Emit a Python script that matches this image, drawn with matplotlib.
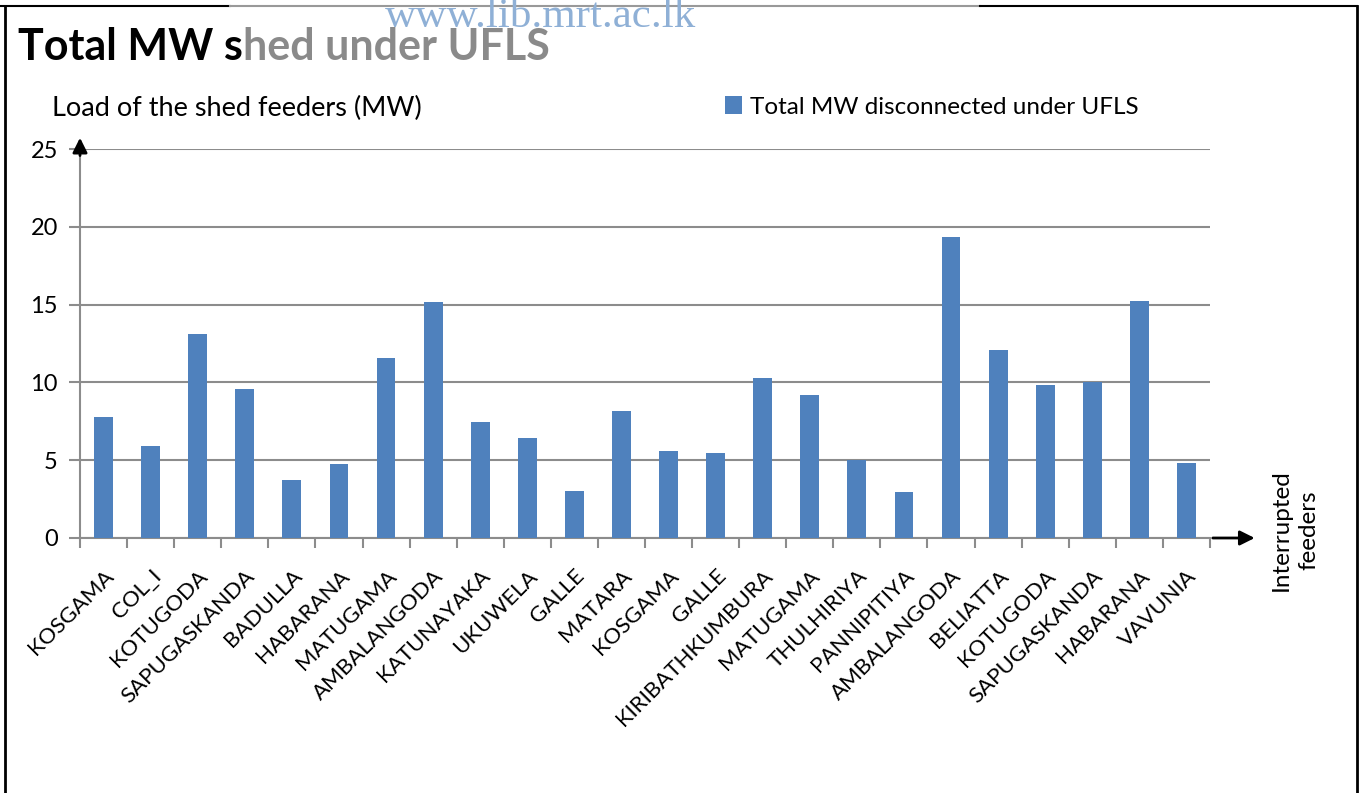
import matplotlib
matplotlib.use("Agg")
import matplotlib.pyplot as plt
from matplotlib.lines import Line2D
import numpy as np

plt.rcParams['font.family'] = ['Lato', 'DejaVu Sans']

feeders = ["KOSGAMA", "COL_I", "KOTUGODA", "SAPUGASKANDA", "BADULLA", "HABARANA",
           "MATUGAMA", "AMBALANGODA", "KATUNAYAKA", "UKUWELA", "GALLE", "MATARA",
           "KOSGAMA", "GALLE", "KIRIBATHKUMBURA", "MATUGAMA", "THULHIRIYA",
           "PANNIPITIYA", "AMBALANGODA", "BELIATTA", "KOTUGODA", "SAPUGASKANDA",
           "HABARANA", "VAVUNIA"]
mw_shed = [7.8, 5.9, 13.1, 9.6, 3.7, 4.75, 11.6, 15.15, 7.45, 6.45, 3.0, 8.15,
           5.6, 5.45, 10.3, 9.2, 5.0, 2.95, 19.35, 12.1, 9.85, 10.0, 15.2, 4.85]
yticks = [0, 5, 10, 15, 20, 25]

W, H = 1362, 793
fig = plt.figure(figsize=(W / 100, H / 100), dpi=100)
ax = fig.add_axes([80 / W, 1 - 538 / H, (1210 - 80) / W, (538 - 149) / H])

x = np.arange(len(feeders))
ax.bar(x, mw_shed, width=0.4, color="#4F81BD", zorder=3,
       label="Total MW disconnected under UFLS")

ax.set_xlim(-0.5, len(feeders) - 0.5)
ax.set_ylim(0, 25)
ax.set_yticks(yticks)
ax.yaxis.grid(True, color="#8c8c8c", linewidth=1.5, zorder=0)
ax.set_xticks(x)
ax.set_xticklabels(feeders, rotation=45, ha="right", rotation_mode="anchor",
                   fontsize=16)
ax.set_xticks(np.arange(-0.5, len(feeders)), minor=True)
ax.tick_params(axis="x", which="major", length=0, pad=20)
ax.tick_params(axis="x", which="minor", length=7, width=1.5, color="#8c8c8c")
ax.tick_params(axis="y", length=8, width=1.5, color="#8c8c8c", labelsize=17, pad=8)

for s in ["top", "right"]:
    ax.spines[s].set_visible(False)
for s in ["left", "bottom"]:
    ax.spines[s].set_color("#8c8c8c")
    ax.spines[s].set_linewidth(1.5)

# axis arrows
ax.annotate("", xy=(0, 1.036), xytext=(0, 0.976), xycoords="axes fraction",
            arrowprops=dict(arrowstyle="-|>", color="black", lw=2, mutation_scale=22))
ax.annotate("", xy=(1.042, 0), xytext=(1.0, 0), xycoords="axes fraction",
            arrowprops=dict(arrowstyle="-|>", color="black", lw=2, mutation_scale=22))

fig.text(52 / W, 1 - 108 / H, "Load of the shed feeders (MW)", fontsize=19.5,
         va="center", ha="left")
fig.text(1295 / W, 1 - 530 / H, "Interrupted\nfeeders", fontsize=17.5,
         rotation=90, va="center", ha="center", multialignment="center",
         linespacing=1.35)

leg = ax.legend(loc="center left", bbox_to_anchor=(703 / W, 1 - 107 / H),
                bbox_transform=fig.transFigure, frameon=False, fontsize=17.5,
                handlelength=0.7, handleheight=0.7, handletextpad=0.35)

# title, partly greyed by the watermark
t1 = fig.text(18 / W, 1 - 47 / H, "Total MW s", fontsize=31, fontweight="bold",
              va="center", ha="left", color="black")
fig.canvas.draw()
bb = t1.get_window_extent()
fig.text(bb.x1 / W, 1 - 47 / H, "hed under UFLS", fontsize=31, fontweight="bold",
         va="center", ha="left", color="#8a8a8a")
fig.text(385 / W, 1 - 27 / H, "www.lib.mrt.ac.lk", fontsize=31,
         family="Liberation Serif", color="#8fb0d6", va="baseline", ha="left")

# slide frame
fig.add_artist(Line2D([5 / W, 5 / W], [0, 1 - 6 / H], color="black", lw=2))
fig.add_artist(Line2D([1357 / W, 1357 / W], [0, 1 - 6 / H], color="black", lw=2))
fig.add_artist(Line2D([0, 230 / W], [1 - 6 / H, 1 - 6 / H], color="black", lw=1.5))
fig.add_artist(Line2D([230 / W, 980 / W], [1 - 6 / H, 1 - 6 / H], color="#999999", lw=1.5))
fig.add_artist(Line2D([980 / W, 1357 / W], [1 - 6 / H, 1 - 6 / H], color="black", lw=1.5))

fig.savefig("out.png", dpi=100)
